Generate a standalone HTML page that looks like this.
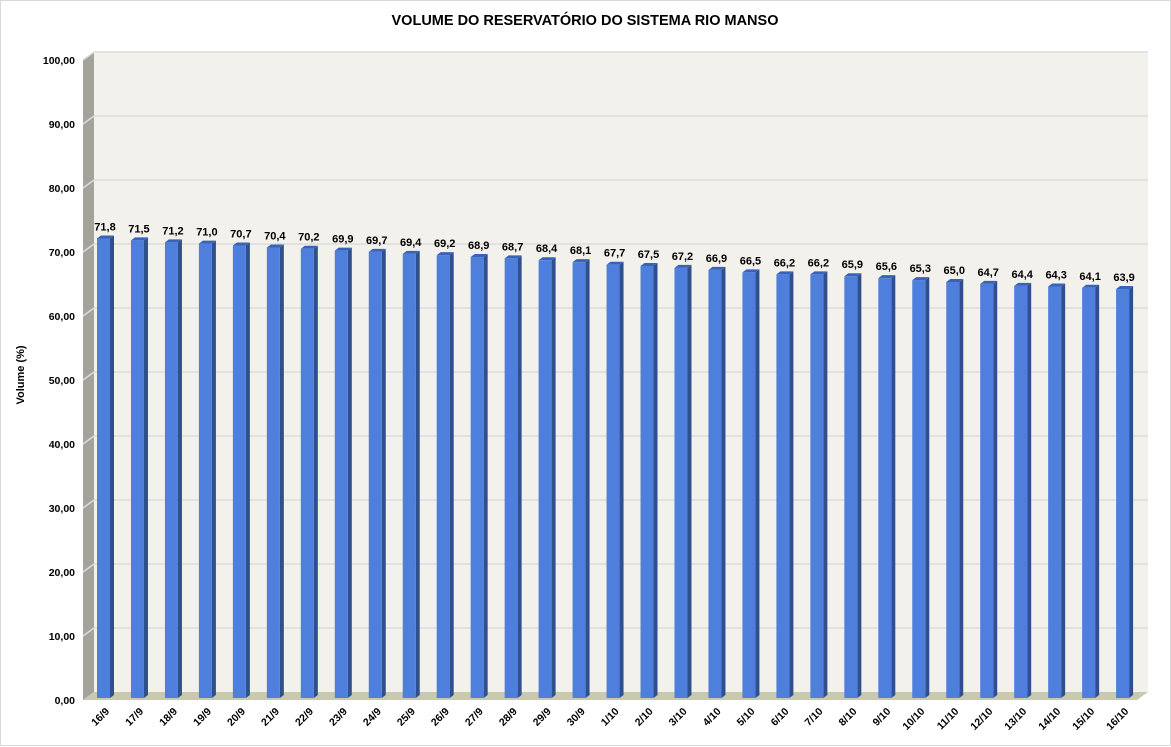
<!DOCTYPE html>
<html><head><meta charset="utf-8"><style>
html,body{margin:0;padding:0;background:#fff}
svg{display:block}
text{font-family:"Liberation Sans",sans-serif;font-weight:bold;fill:#000}
</style></head><body>
<svg id="c" width="1171" height="747" viewBox="0 0 1171 747" xmlns="http://www.w3.org/2000/svg">
<rect x="0.5" y="0.5" width="1170" height="745" fill="#fff" stroke="#d9d9d9"/>
<text x="585" y="25" font-size="14.5" text-anchor="middle">VOLUME DO RESERVATÓRIO DO SISTEMA RIO MANSO</text>
<text transform="translate(24,375) rotate(-90)" font-size="11" text-anchor="middle">Volume (%)</text>
<rect x="94" y="52" width="1054" height="640" fill="#f3f1ec"/>
<polygon points="83,60 94,52 94,692 83,700" fill="#a3a39c"/>
<polygon points="83,700 94,692 1148,692 1137,700" fill="#c9c9b0"/>
<g id="g"></g>
</svg>
<script>
var g=document.getElementById('g'),s='';
for(var i=1;i<=10;i++){var yb=692-i*64,yf=700-i*64;
 s+='<line x1="94" y1="'+yb+'" x2="1148" y2="'+yb+'" stroke="#dcdcd8" stroke-width="1.5"/>';
 s+='<line x1="83" y1="'+yf+'" x2="94" y2="'+yb+'" stroke="#dcdcd8" stroke-width="1.5"/>';}
for(var i=0;i<=10;i++){var yf=700-i*64;
 s+='<text x="75" y="'+(yf+4)+'" font-size="10.5" text-anchor="end">'+(i*10)+',00</text>';}
var v=[71.8,71.5,71.2,71.0,70.7,70.4,70.2,69.9,69.7,69.4,69.2,68.9,68.7,68.4,68.1,67.7,67.5,67.2,66.9,66.5,66.2,66.2,65.9,65.6,65.3,65.0,64.7,64.4,64.3,64.1,63.9];
var l=['16/9','17/9','18/9','19/9','20/9','21/9','22/9','23/9','24/9','25/9','26/9','27/9','28/9','29/9','30/9','1/10','2/10','3/10','4/10','5/10','6/10','7/10','8/10','9/10','10/10','11/10','12/10','13/10','14/10','15/10','16/10'];
for(var i=0;i<31;i++){
 var x=97+i*33.97,w=13,d=4,dy=3,b=698,t=b-v[i]*6.4;
 s+='<polygon points="'+(x+w)+','+t+' '+(x+w+d)+','+(t-dy)+' '+(x+w+d)+','+(b-dy)+' '+(x+w)+','+b+'" fill="#2f4f8f"/>';
 s+='<polygon points="'+x+','+t+' '+(x+d)+','+(t-dy)+' '+(x+w+d)+','+(t-dy)+' '+(x+w)+','+t+'" fill="#3a63b8"/>';
 s+='<rect x="'+x+'" y="'+t+'" width="'+w+'" height="'+(b-t)+'" fill="#4f7fdc"/>';
 s+='<text x="'+(x+8)+'" y="'+(t-8)+'" font-size="11" text-anchor="middle">'+v[i].toFixed(1).replace('.',',')+'</text>';
 s+='<text transform="translate('+(x+13)+',712) rotate(-45)" font-size="10.5" text-anchor="end">'+l[i]+'</text>';
}
g.innerHTML=s;
</script>
</body></html>
